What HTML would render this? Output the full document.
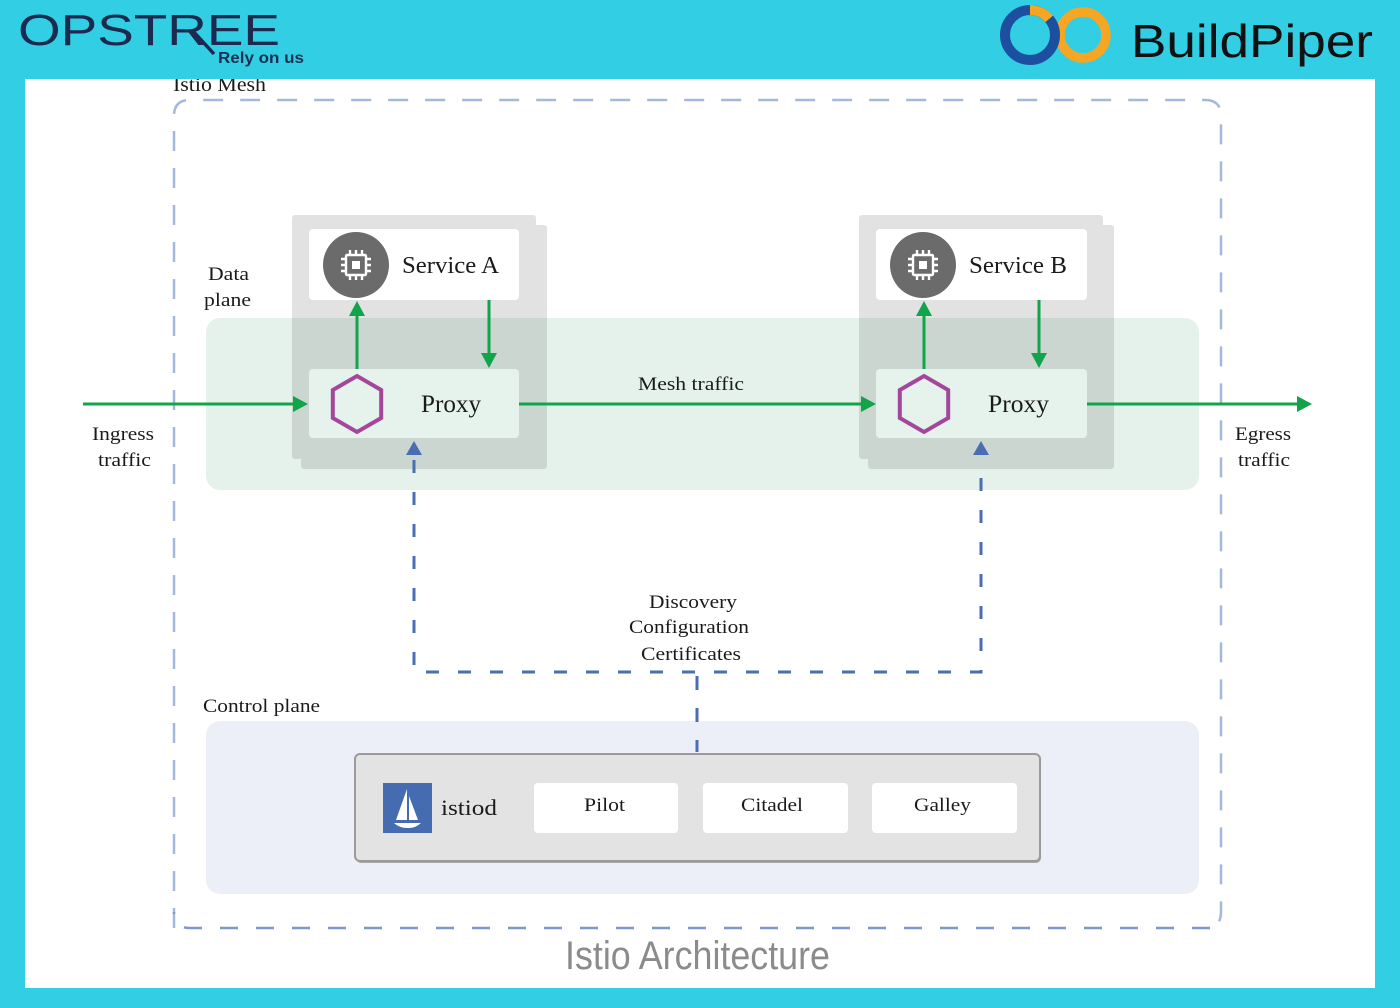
<!DOCTYPE html>
<html>
<head>
<meta charset="utf-8">
<style>
  html,body{margin:0;padding:0;background:#32cee3;}
  svg{display:block;}
  .sf{font-family:"Liberation Serif","DejaVu Serif",serif;fill:#1a1a1a;}
</style>
</head>
<body>
<svg width="1400" height="1008" viewBox="0 0 1400 1008" xmlns="http://www.w3.org/2000/svg">
  <!-- background -->
  <rect x="0" y="0" width="1400" height="1008" fill="#32cee3"/>
  <rect x="25" y="79" width="1350" height="909" fill="#ffffff"/>

  <!-- Istio Mesh label (partially under header) -->
  <text class="sf" x="173" y="91" font-size="20" textLength="93" lengthAdjust="spacingAndGlyphs">Istio Mesh</text>

  <!-- Mesh dashed border -->
  <path d="M174 928 V116 Q174 100 190 100 H1205 Q1221 100 1221 116 V912 Q1221 928 1205 928" fill="none" stroke="#a6b7dc" stroke-width="2.5" stroke-dasharray="20 17"/>
  <path d="M1210 928 H190 Q174 928 174 912" fill="none" stroke="#7f98ca" stroke-width="2.5" stroke-dasharray="18 18"/>

  <!-- Data plane green region -->
  <rect x="206" y="318" width="993" height="172" rx="14" fill="#e5f2ec"/>

  <!-- Control plane region -->
  <rect x="206" y="721" width="993" height="173" rx="14" fill="#eceff7"/>

  <!-- Service A stack -->
  <g opacity="0.11">
    <rect x="292" y="215" width="244" height="244" rx="3" fill="#000"/>
    <rect x="301" y="225" width="246" height="244" rx="3" fill="#000"/>
  </g>
  <!-- Service B stack -->
  <g opacity="0.11">
    <rect x="859" y="215" width="244" height="244" rx="3" fill="#000"/>
    <rect x="868" y="225" width="246" height="244" rx="3" fill="#000"/>
  </g>

  <!-- Service A card -->
  <rect x="309" y="229" width="210" height="71" rx="4" fill="#ffffff"/>
  <circle cx="356" cy="265" r="33" fill="#6b6b6b"/>
  <g transform="translate(356,265)" stroke="#ffffff" stroke-width="2.4" fill="none">
    <rect x="-10" y="-10" width="20" height="20" rx="1"/>
    <rect x="-4" y="-4" width="8" height="8" fill="#ffffff" stroke="none"/>
    <path d="M-6 -10 V-15 M0 -10 V-15 M6 -10 V-15 M-6 10 V15 M0 10 V15 M6 10 V15 M-10 -6 H-15 M-10 0 H-15 M-10 6 H-15 M10 -6 H15 M10 0 H15 M10 6 H15"/>
  </g>
  <text class="sf" x="402" y="273" font-size="24" textLength="97" lengthAdjust="spacingAndGlyphs">Service A</text>

  <!-- Proxy A card -->
  <rect x="309" y="369" width="210" height="69" rx="4" fill="#e6f2ec"/>
  <polygon points="357,376 381.2,390 381.2,418 357,432 332.8,418 332.8,390" fill="none" stroke="#a4469c" stroke-width="4"/>
  <text class="sf" x="421" y="412" font-size="25" textLength="60" lengthAdjust="spacingAndGlyphs">Proxy</text>

  <!-- Service B card -->
  <rect x="876" y="229" width="211" height="71" rx="4" fill="#ffffff"/>
  <circle cx="923" cy="265" r="33" fill="#6b6b6b"/>
  <g transform="translate(923,265)" stroke="#ffffff" stroke-width="2.4" fill="none">
    <rect x="-10" y="-10" width="20" height="20" rx="1"/>
    <rect x="-4" y="-4" width="8" height="8" fill="#ffffff" stroke="none"/>
    <path d="M-6 -10 V-15 M0 -10 V-15 M6 -10 V-15 M-6 10 V15 M0 10 V15 M6 10 V15 M-10 -6 H-15 M-10 0 H-15 M-10 6 H-15 M10 -6 H15 M10 0 H15 M10 6 H15"/>
  </g>
  <text class="sf" x="969" y="273" font-size="24" textLength="98" lengthAdjust="spacingAndGlyphs">Service B</text>

  <!-- Proxy B card -->
  <rect x="876" y="369" width="211" height="69" rx="4" fill="#e6f2ec"/>
  <polygon points="924,376 948.2,390 948.2,418 924,432 899.8,418 899.8,390" fill="none" stroke="#a4469c" stroke-width="4"/>
  <text class="sf" x="988" y="412" font-size="25" textLength="61" lengthAdjust="spacingAndGlyphs">Proxy</text>

  <!-- Green arrows -->
  <g stroke="#12a44a" stroke-width="3" fill="none">
    <line x1="83" y1="404" x2="295" y2="404"/>
    <line x1="519" y1="404" x2="862" y2="404"/>
    <line x1="1087" y1="404" x2="1298" y2="404"/>
    <line x1="357" y1="369" x2="357" y2="314"/>
    <line x1="489" y1="300" x2="489" y2="356"/>
    <line x1="924" y1="369" x2="924" y2="314"/>
    <line x1="1039" y1="300" x2="1039" y2="356"/>
  </g>
  <g fill="#12a44a">
    <polygon points="308,404 293,396 293,412"/>
    <polygon points="876,404 861,396 861,412"/>
    <polygon points="1312,404 1297,396 1297,412"/>
    <polygon points="357,301 349,316 365,316"/>
    <polygon points="489,368 481,353 497,353"/>
    <polygon points="924,301 916,316 932,316"/>
    <polygon points="1039,368 1031,353 1047,353"/>
  </g>

  <!-- Blue dashed connectors -->
  <g stroke="#4a6db3" stroke-width="3" fill="none">
    <path d="M414 460 V672 H981 V460" stroke-dasharray="13 19"/>
    <path d="M697 676 V752" stroke-dasharray="14 18"/>
  </g>
  <g fill="#4a6db3">
    <polygon points="414,441 406,455 422,455"/>
    <polygon points="981,441 973,455 989,455"/>
  </g>

  <!-- Labels -->
  <text class="sf" x="208" y="280" font-size="19" textLength="41" lengthAdjust="spacingAndGlyphs">Data</text>
  <text class="sf" x="204" y="306" font-size="19" textLength="47" lengthAdjust="spacingAndGlyphs">plane</text>
  <text class="sf" x="92" y="440" font-size="19" textLength="62" lengthAdjust="spacingAndGlyphs">Ingress</text>
  <text class="sf" x="98" y="466" font-size="19" textLength="53" lengthAdjust="spacingAndGlyphs">traffic</text>
  <text class="sf" x="1235" y="440" font-size="19" textLength="56" lengthAdjust="spacingAndGlyphs">Egress</text>
  <text class="sf" x="1238" y="466" font-size="19" textLength="52" lengthAdjust="spacingAndGlyphs">traffic</text>
  <text class="sf" x="638" y="390" font-size="19" textLength="106" lengthAdjust="spacingAndGlyphs">Mesh traffic</text>
  <text class="sf" x="649" y="608" font-size="19" textLength="88" lengthAdjust="spacingAndGlyphs">Discovery</text>
  <text class="sf" x="629" y="633" font-size="19" textLength="120" lengthAdjust="spacingAndGlyphs">Configuration</text>
  <text class="sf" x="641" y="660" font-size="19" textLength="100" lengthAdjust="spacingAndGlyphs">Certificates</text>
  <text class="sf" x="203" y="712" font-size="19" textLength="117" lengthAdjust="spacingAndGlyphs">Control plane</text>

  <!-- istiod box -->
  <rect x="356" y="757" width="685" height="106" rx="5" fill="#a8a8a8"/>
  <rect x="355" y="754" width="685" height="107" rx="5" fill="#e3e3e3" stroke="#9a9a9a" stroke-width="2"/>
  <rect x="383" y="783" width="49" height="50" fill="#456bb1"/>
  <polygon points="407,789 407,820 396,820" fill="#ffffff"/>
  <polygon points="409,796 418,820 409,820" fill="#ffffff"/>
  <path d="M394 823 H421 Q416 828 408 828 Q399 828 394 823 Z" fill="#ffffff"/>
  <text class="sf" x="441" y="815" font-size="22" textLength="56" lengthAdjust="spacingAndGlyphs">istiod</text>

  <rect x="534" y="783" width="144" height="50" rx="4" fill="#ffffff"/>
  <text class="sf" x="584" y="811" font-size="19" textLength="41" lengthAdjust="spacingAndGlyphs">Pilot</text>
  <rect x="703" y="783" width="145" height="50" rx="4" fill="#ffffff"/>
  <text class="sf" x="741" y="811" font-size="19" textLength="62" lengthAdjust="spacingAndGlyphs">Citadel</text>
  <rect x="872" y="783" width="145" height="50" rx="4" fill="#ffffff"/>
  <text class="sf" x="914" y="811" font-size="19" textLength="57" lengthAdjust="spacingAndGlyphs">Galley</text>

  <!-- Caption -->
  <text x="565" y="969" font-family="'Liberation Sans','DejaVu Sans',sans-serif" font-size="40" fill="#8b8b8b" textLength="265" lengthAdjust="spacingAndGlyphs">Istio Architecture</text>

  <!-- Header -->
  <rect x="0" y="0" width="1400" height="79" fill="#32cee3"/>
  <text x="18" y="45" font-family="'Liberation Sans','DejaVu Sans',sans-serif" font-size="44" fill="#1b2a4e" textLength="262" lengthAdjust="spacingAndGlyphs">OPSTREE</text>
  <line x1="192" y1="30" x2="214" y2="54" stroke="#1b2a4e" stroke-width="3.5"/>
  <text x="218" y="63" font-family="'Liberation Sans','DejaVu Sans',sans-serif" font-size="16" font-weight="bold" fill="#1d2e52" textLength="86" lengthAdjust="spacingAndGlyphs">Rely on us</text>

  <!-- BuildPiper logo -->
  <circle cx="1083" cy="35" r="23" fill="none" stroke="#f6a623" stroke-width="9.5"/>
  <circle cx="1030" cy="35" r="25" fill="none" stroke="#1c4fa0" stroke-width="10"/>
  <path d="M1030 10 A25 25 0 0 1 1049.2 18.9" fill="none" stroke="#f6a623" stroke-width="10"/>
  <text x="1131" y="57" font-family="'Liberation Sans','DejaVu Sans',sans-serif" font-size="46" fill="#111111" textLength="242" lengthAdjust="spacingAndGlyphs">BuildPiper</text>
</svg>
</body>
</html>
